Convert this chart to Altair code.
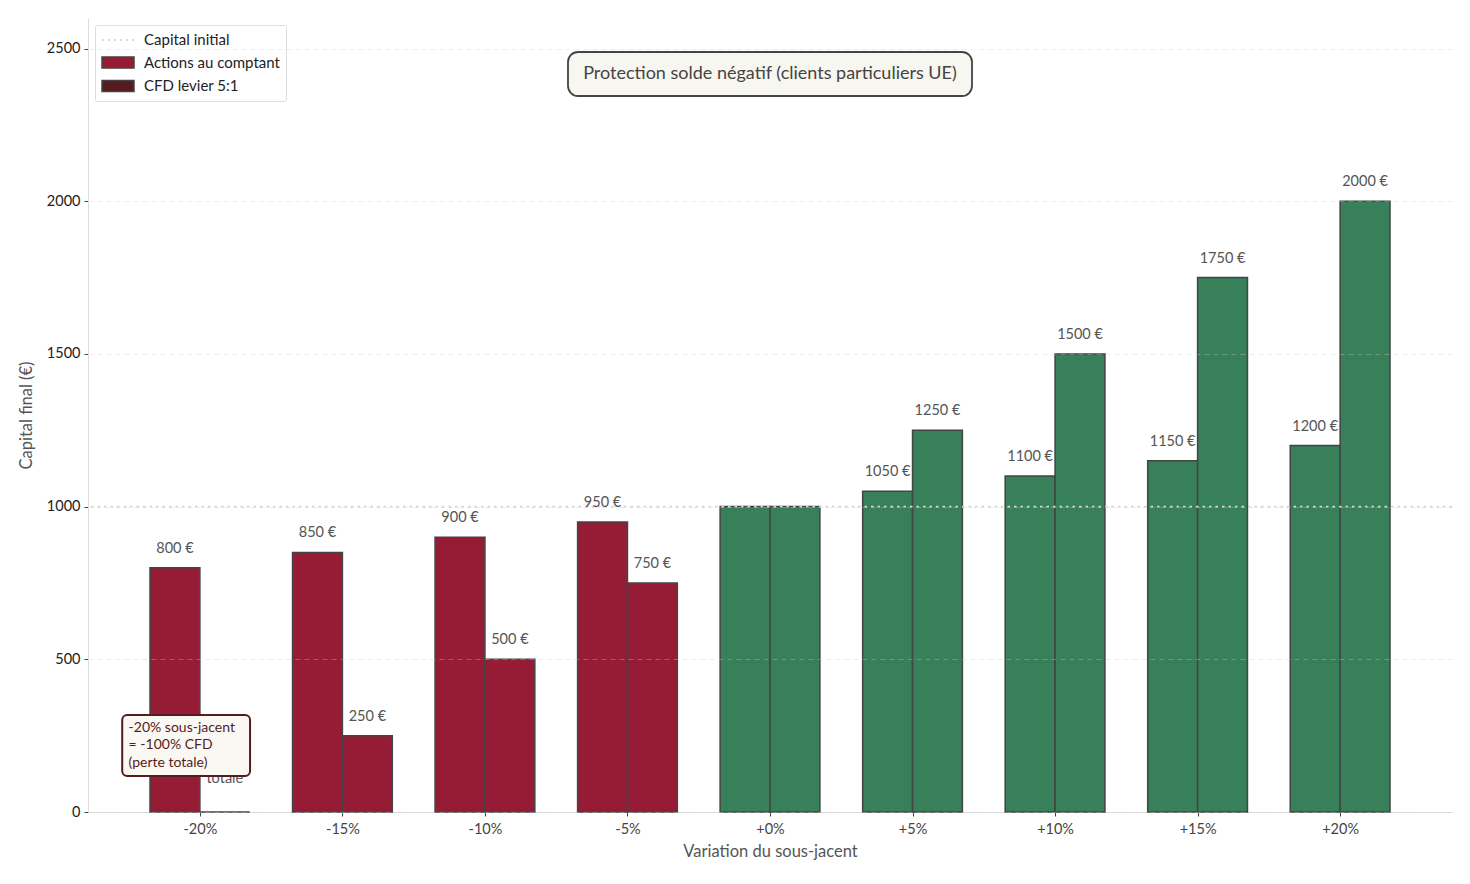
import json

import altair as alt
import pandas as pd

# Données
variations = ["-20%", "-15%", "-10%", "-5%", "+0%", "+5%", "+10%", "+15%", "+20%"]
variation_num = [-20, -15, -10, -5, 0, 5, 10, 15, 20]
actions = [800, 850, 900, 950, 1000, 1050, 1100, 1150, 1200]
cfd = [0, 250, 500, 750, 1000, 1250, 1500, 1750, 2000]
capital_initial = 1000

series = ["Capital initial", "Actions au comptant", "CFD levier 5:1"]

ROUGE = "#961C35"
VERT = "#37805A"
BORDEAUX = "#561B1E"
FONT = "Lato"

largeur = 0.35
rows = []
for i, (v, a, c) in enumerate(zip(variation_num, actions, cfd)):
    couleur = ROUGE if v < 0 else VERT
    rows.append({"x0": i - largeur, "x1": i, "xc": i - largeur / 2, "valeur": a,
                 "serie": "Actions", "couleur": couleur, "var": v})
    rows.append({"x0": i, "x1": i + largeur, "xc": i + largeur / 2, "valeur": c,
                 "serie": "CFD", "couleur": couleur, "var": v})
df = pd.DataFrame(rows)
df["texte"] = df["valeur"].astype(str) + " €"

x_scale = alt.Scale(domain=[-0.785, len(variations) - 1 + 0.785], nice=False, zero=False)
y_scale = alt.Scale(domain=[0, 2600], nice=False)

label_expr = json.dumps(variations) + "[datum.value]"

barres = alt.Chart(df).mark_bar(stroke="#444444", strokeWidth=1.5).encode(
    x=alt.X("x0:Q", scale=x_scale,
            axis=alt.Axis(values=list(range(len(variations))), labelExpr=label_expr,
                          title="Variation du sous-jacent", grid=False,
                          labelPadding=6, titlePadding=8)),
    x2="x1:Q",
    y=alt.Y("valeur:Q", scale=y_scale,
            axis=alt.Axis(values=[0, 500, 1000, 1500, 2000, 2500], format="d",
                          title="Capital final (€)",
                          grid=True, gridDash=[5, 4], gridColor="#cccccc", gridOpacity=0.35,
                          zindex=1)),
    y2=alt.datum(0),
    fill=alt.Fill("couleur:N", scale=None),
)

ligne = alt.Chart(pd.DataFrame({"y": [capital_initial]})).mark_rule(
    color="#d4d4d4", strokeWidth=1.8, strokeDash=[2.5, 4]
).encode(y=alt.Y("y:Q", scale=y_scale))

df_lab = df[(df["var"] != 0) & (df["valeur"] > 0)]
etiquettes = alt.Chart(df_lab).mark_text(
    baseline="bottom", dy=-12, fontSize=14.5, color="#555555", font=FONT
).encode(
    x=alt.X("xc:Q", scale=x_scale),
    y=alt.Y("valeur:Q", scale=y_scale),
    text="texte:N",
)

perte = alt.Chart(df[df["valeur"] == 0]).mark_text(
    baseline="bottom", dy=-43, fontSize=14.5, color="#555555", font=FONT,
    lineBreak="\n", lineHeight=17
).encode(
    x=alt.X("xc:Q", scale=x_scale),
    y=alt.Y("valeur:Q", scale=y_scale),
    text=alt.value("Perte\ntotale"),
)

# Annotation sur le scénario -20 %
annot = pd.DataFrame({"xa": [-0.545], "xb": [0.352], "ya": [118], "yb": [318],
                      "xt": [-0.50], "yt": [298]})
boite = alt.Chart(annot).mark_rect(
    fill="#faf8f3", stroke=BORDEAUX, strokeWidth=2, cornerRadius=5
).encode(
    x=alt.X("xa:Q", scale=x_scale), x2="xb:Q",
    y=alt.Y("ya:Q", scale=y_scale), y2="yb:Q",
)
texte_annot = alt.Chart(annot).mark_text(
    align="left", baseline="top", fontSize=14, color=BORDEAUX, font=FONT,
    lineBreak="\n", lineHeight=17.5
).encode(
    x=alt.X("xt:Q", scale=x_scale),
    y=alt.Y("yt:Q", scale=y_scale),
    text=alt.value("-20% sous-jacent\n= -100% CFD\n(perte totale)"),
)

# Encadré titre
titre_boite = alt.Chart(pd.DataFrame({"a": [0]})).mark_rect(
    fill="#f8f6f0", stroke="#444444", strokeWidth=1.8, cornerRadius=10
).encode(x=alt.value(480), x2=alt.value(884), y=alt.value(34), y2=alt.value(78))
titre = alt.Chart(pd.DataFrame({"a": [0]})).mark_text(
    fontSize=18, color="#444444", font=FONT
).encode(x=alt.value(682), y=alt.value(56),
         text=alt.value("Protection solde négatif (clients particuliers UE)"))

# Légende
rect_path = "M-1,-0.7H3V0.7H-1Z"
dots_path = "M-1,0H-0.75M-0.25,0H0M0.5,0H0.75M1.25,0H1.5M2,0H2.25M2.75,0H3"
leg = alt.Legend(title=None, orient="top-left", offset=7, symbolSize=256,
                 symbolStrokeWidth=1.5, labelOffset=25, labelFontSize=15,
                 labelColor="#222222", labelFont=FONT, rowPadding=5.5, padding=6,
                 fillColor="white", strokeColor="#dddddd", cornerRadius=2)
df_leg = pd.DataFrame({"serie": series, "x": [-5] * 3, "y": [0] * 3})
legende = alt.Chart(df_leg).mark_point(filled=True, clip=True, size=256, opacity=1).encode(
    x=alt.X("x:Q", scale=x_scale),
    y=alt.Y("y:Q", scale=y_scale),
    color=alt.Color("serie:N", scale=alt.Scale(domain=series, range=["transparent", ROUGE, BORDEAUX]), legend=leg),
    shape=alt.Shape("serie:N", scale=alt.Scale(domain=series, range=[dots_path, rect_path, rect_path]), legend=leg),
    stroke=alt.Stroke("serie:N", scale=alt.Scale(domain=series, range=["#cfcfcf", "#444444", "#444444"]), legend=leg),
)

chart = alt.layer(
    barres, ligne, etiquettes, perte, boite, texte_annot, titre_boite, titre, legende
).properties(
    width=1364, height=794,
    autosize=alt.AutoSizeParams(type="none"),
    padding={"left": 80, "top": 10, "right": 10, "bottom": 60},
).configure_view(stroke=None).configure_axis(
    labelFont=FONT, titleFont=FONT, labelFontSize=14.5, titleFontSize=16.5,
    labelColor="#444444", titleColor="#555555", titleFontWeight="normal",
    domainColor="#dddddd", tickColor="#444444", tickSize=4, labelPadding=4,
).configure_axisY(labelColor="#222222", titlePadding=12)

chart.save("out.html", embed_options={"renderer": "svg", "actions": False})
